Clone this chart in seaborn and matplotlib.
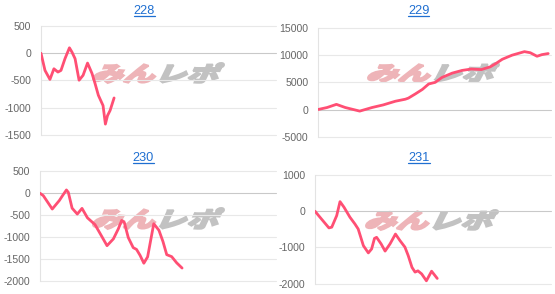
import numpy as np
import pandas as pd
import matplotlib
matplotlib.use("Agg")
import matplotlib.pyplot as plt
import seaborn as sns
from matplotlib.textpath import TextPath
from matplotlib.font_manager import FontProperties
from matplotlib.patches import PathPatch
from matplotlib.transforms import Affine2D, IdentityTransform, Bbox
from matplotlib.lines import Line2D

# ---------------- data ----------------
titles = ["228", "229", "230", "231"]

x228 = [0, 1.7, 3.8, 5.5, 7.2, 8.5, 10.2, 12.1, 13.2, 14.5, 16.2, 17.9, 19.8,
        21.7, 23.0, 24.4, 26.4, 27.4, 28.3, 29.4, 31.1]
y228 = [0, -315, -480, -285, -345, -315, -100, 100, 20, -100, -495, -405, -180,
        -370, -555, -770, -960, -1300, -1145, -1050, -820]

x229 = [0, 3.9, 7.9, 11.7, 17.9, 23.2, 28.0, 33.2, 37.5, 38.8, 41.7, 44.8, 47.5,
        50.3, 53.2, 57.6, 61.9, 65.8, 70.1, 73.9, 76.1, 79.1, 83.3, 88.6, 91.1,
        94.0, 96.1, 98.8]
y229 = [0, 370, 950, 370, -290, 370, 850, 1525, 1900, 2100, 2850, 3700, 4700,
        5000, 5900, 6700, 7200, 7450, 7350, 7850, 8400, 9250, 10000, 10650, 10450,
        9800, 10100, 10300]

x230 = [0, 1.4, 5.2, 8.2, 9.6, 11.2, 12.0, 13.6, 15.8, 17.8, 20.1, 23.3, 25.6,
        28.4, 31.1, 33.2, 34.6, 35.7, 37.4, 39.5, 40.9, 42.4, 44.0, 45.6, 48.2,
        50.4, 52.1, 53.7, 55.8, 57.9, 60.2]
y230 = [0, -55, -360, -165, -50, 75, 20, -340, -475, -345, -560, -715, -930,
        -1195, -1040, -810, -620, -660, -1010, -1240, -1280, -1415, -1595, -1450,
        -695, -845, -1100, -1400, -1445, -1585, -1705]

x231 = [0, 2.1, 5.9, 7.1, 9.2, 10.6, 12.3, 14.8, 16.9, 18.3, 20.5, 22.6, 24.0,
        25.2, 26.1, 28.0, 29.7, 31.8, 34.1, 36.0, 38.1, 39.5, 41.1, 42.4, 43.6,
        45.2, 47.2, 49.4, 51.8]
y231 = [0, -165, -460, -440, -120, 265, 110, -165, -350, -490, -950, -1150, -1040,
        -750, -720, -900, -1100, -900, -630, -810, -990, -1225, -1550, -1680, -1645,
        -1730, -1920, -1655, -1855]

ticks228 = [-1500, -1000, -500, 0, 500]
ticks229 = [-5000, 0, 5000, 10000, 15000]
ticks230 = [-2000, -1500, -1000, -500, 0, 500]
ticks231 = [-2000, -1000, 0, 1000]

series = {
    "228": (x228, y228, ticks228),
    "229": (x229, y229, ticks229),
    "230": (x230, y230, ticks230),
    "231": (x231, y231, ticks231),
}

# ---------------- style ----------------
sns.set_style("white")
plt.rcParams["font.family"] = ["Liberation Sans", "DejaVu Sans"]
plt.rcParams["axes.unicode_minus"] = False

W, H = 555, 294
fig = plt.figure(figsize=(W / 100, H / 100), dpi=100)
fig.patch.set_facecolor("white")

LINE = "#ff4f74"
TITLE_C = "#1f6fd1"

# layout in image pixels: left, right, top, bottom of plot area
boxes = {
    "228": (41, 276, 26, 135),
    "229": (318, 551, 28, 136.7),
    "230": (40, 276, 171.3, 281),
    "231": (315, 551, 175, 283.7),
}
title_pos = {  # centre x, baseline y, underline y
    "228": (144.3, 14, 15.8),
    "229": (418.7, 14, 15.8),
    "230": (143.3, 161, 162.8),
    "231": (419.0, 161, 162.8),
}
wm_pos = {  # left, right, top, bottom of watermark
    "228": (93, 224, 63, 83),
    "229": (368, 499, 63, 82),
    "230": (93, 224, 208, 229),
    "231": (366, 498, 210, 230),
}

# watermark paths
fp = FontProperties(family="Noto Sans CJK JP", weight="black")
skew = Affine2D().skew_deg(18, 0)
pa = skew.transform_path(TextPath((0, 0), "みん", size=100, prop=fp))
pb = skew.transform_path(TextPath((200, 0), "レポ", size=100, prop=fp))
ext = Bbox.union([pa.get_extents(), pb.get_extents()])

texts = {}
for name in titles:
    xs, ys, ticks = series[name]
    l, r, t, b = boxes[name]
    ax = fig.add_axes([l / W, 1 - b / H, (r - l) / W, (b - t) / H])
    ax.set_facecolor("none")
    df = pd.DataFrame({"x": xs, "y": ys})
    sns.lineplot(data=df, x="x", y="y", ax=ax, color=LINE, linewidth=2.0,
                 estimator=None, sort=False, zorder=3)
    ax.set_xlim(0, 100)
    ax.set_ylim(ticks[0], ticks[-1])
    ax.set_yticks(ticks)
    ax.set_xticks([])
    ax.set_xlabel("")
    ax.set_ylabel("")
    ax.tick_params(axis="y", length=0, pad=7, labelsize=7.6, labelcolor="#666666")
    ax.grid(axis="y", color="#e8e8e8", linewidth=0.8)
    for tv, gl in zip(ticks, ax.get_ygridlines()):
        if tv == 0:
            gl.set_color("#c9c9c9")
        gl.set_clip_on(False)
    for s in ["top", "right", "bottom"]:
        ax.spines[s].set_visible(False)
    ax.spines["left"].set_color("#e3e3e3")
    ax.spines["left"].set_linewidth(0.8)

    # watermark
    wl, wr, wt, wb = wm_pos[name]
    T = (Affine2D().translate(-ext.x0, -ext.y0)
         .scale((wr - wl) / ext.width, (wb - wt) / ext.height)
         .translate(wl, H - wb))
    for p, c in [(pa, "#eeb4b8"), (pb, "#c2c2c2")]:
        patch = PathPatch(T.transform_path(p), facecolor=c, edgecolor=c,
                          linewidth=1.4, joinstyle="miter",
                          transform=IdentityTransform(), zorder=-1)
        fig.add_artist(patch)

    cx, by, uy = title_pos[name]
    texts[name] = fig.text(cx / W, 1 - by / H, name, ha="center", va="baseline",
                           fontsize=9.2, color=TITLE_C)

fig.canvas.draw()
renderer = fig.canvas.get_renderer()
for name in titles:
    bb = texts[name].get_window_extent(renderer)
    uy = title_pos[name][2]
    fig.add_artist(Line2D([bb.x0, bb.x1], [H - uy, H - uy], color=TITLE_C,
                          linewidth=0.9, transform=IdentityTransform()))

fig.savefig("out.png", dpi=100)
